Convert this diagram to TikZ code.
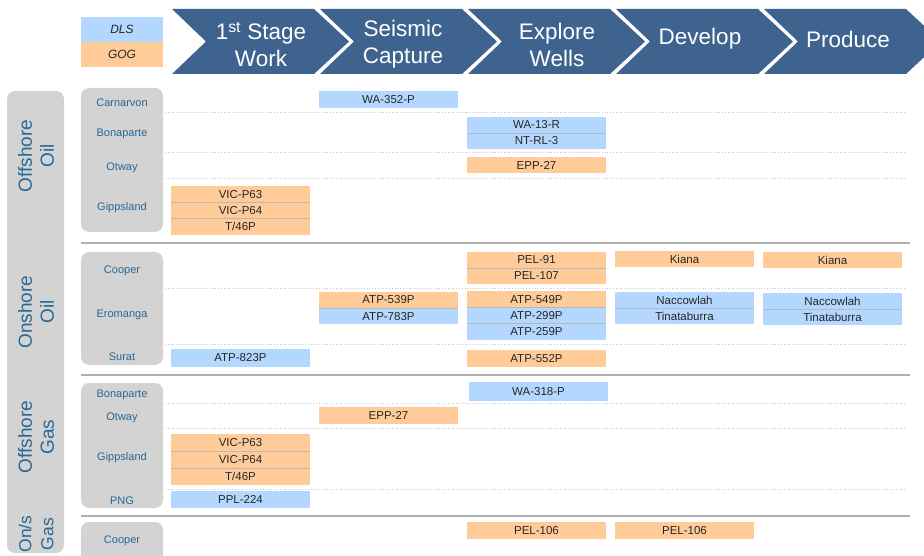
\documentclass[tikz,border=0pt]{standalone}
\usepackage{fontspec}
\setmainfont{Liberation Sans}
\definecolor{chev}{RGB}{62,99,143}
\definecolor{dls}{RGB}{179,215,255}
\definecolor{gog}{RGB}{255,204,153}
\definecolor{lbl}{RGB}{40,104,150}
\definecolor{panel}{RGB}{211,211,211}
\definecolor{sep}{RGB}{175,175,175}
\definecolor{dotc}{RGB}{200,200,200}
\definecolor{divl}{RGB}{185,185,185}
\begin{document}
\begin{tikzpicture}[x=1pt,y=-1pt,
 box/.style={minimum width=139pt, minimum height=16.3pt, inner sep=0pt, font=\fontsize{11.5}{12}\selectfont, text=black!85},
 dlsbox/.style={box, fill=dls},
 gogbox/.style={box, fill=gog},
 legendbox/.style={minimum width=82pt, minimum height=25pt, inner sep=0pt, font=\itshape\fontsize{12}{13}\selectfont, text=black!85},
 chevtext/.style={text=white, font=\fontsize{22.5}{27}\selectfont, align=center},
 grouplabel/.style={text=lbl, rotate=90, align=center, font=\fontsize{19}{22}\selectfont},
 region/.style={text=lbl, font=\fontsize{11}{12}\selectfont},
 panelbox/.style={fill=panel, rounded corners=8pt},
 divider/.style={draw=divl, line width=0.8pt},
 dotline/.style={draw=dotc, dotted, line width=0.8pt},
 sepline/.style={draw=sep, line width=1.8pt}]

\useasboundingbox (0,0) rectangle (924,556);
\clip (0,0) rectangle (924,556);

% chevrons
\foreach \x in {172,320,468,616,764}
  \fill[chev] (\x,9) -- ++(142,0) -- ++(35,32.5) -- ++(-35,32.5) -- ++(-142,0) -- ++(34,-32.5) -- cycle;
\node[chevtext] (c1) at (261,44.5) {1\textsuperscript{st} Stage\\Work};
\node[chevtext] (c2) at (403,44.5) {Seismic\\Capture};
\node[chevtext] (c3) at (557,44.5) {Explore\\Wells};
\node[chevtext] (c4) at (700,39) {Develop};
\node[chevtext] (c5) at (848,39) {Produce};

% legend
\node[legendbox, fill=dls] (leg1) at (122,29.5) {DLS};
\node[legendbox, fill=gog] (leg2) at (122,54.5) {GOG};

% dotted row lines
\foreach \y in {112,152,178,288,344,403,428,489}
  \draw[dotline] (81,\y) -- (905,\y);
% separators
\foreach \y in {243,375,516}
  \draw[sepline] (81,\y) -- (910,\y);

% left group bar
\fill[panelbox] (7,91) rectangle (64,553);
\node[grouplabel] (g1) at (36,156) {Offshore\\Oil};
\node[grouplabel] (g2) at (36,312) {Onshore\\Oil};
\node[grouplabel] (g3) at (36,437) {Offshore\\Gas};
\node[grouplabel, font=\fontsize{17.5}{22}\selectfont] (g4) at (36,534) {On/s\\Gas};

% region panels
\fill[panelbox] (81,88) rectangle (163,232);
\fill[panelbox] (81,252) rectangle (163,365);
\fill[panelbox] (81,383) rectangle (163,508);
\fill[panelbox] (81,522) rectangle (163,575);

\node[region] (r1) at (122,103) {Carnarvon};
\node[region] (r2) at (122,134) {Bonaparte};
\node[region] (r3) at (122,168) {Otway};
\node[region] (r4) at (122,208) {Gippsland};
\node[region] (r5) at (122,271) {Cooper};
\node[region] (r6) at (122,315) {Eromanga};
\node[region] (r7) at (122,357) {Surat};
\node[region] (r8) at (122,395) {Bonaparte};
\node[region] (r9) at (122,418) {Otway};
\node[region] (r10) at (122,458) {Gippsland};
\node[region] (r11) at (122,501) {PNG};
\node[region] (r12) at (122,541) {Cooper};

% Offshore oil
\node[dlsbox, minimum height=17pt] (b1) at (388.5,99.5) {WA-352-P};
\node[dlsbox, minimum height=16pt] (b2) at (536.5,125) {WA-13-R};
\node[dlsbox, minimum height=16pt] (b3) at (536.5,141) {NT-RL-3};
\node[gogbox, minimum height=16pt] (b4) at (536.5,165) {EPP-27};
\node[gogbox] (b5) at (240.5,194.2) {VIC-P63};
\node[gogbox] (b6) at (240.5,210.5) {VIC-P64};
\node[gogbox] (b7) at (240.5,226.8) {T/46P};

% Onshore oil
\node[gogbox, minimum height=16pt] (b8) at (536.5,260) {PEL-91};
\node[gogbox, minimum height=16pt] (b9) at (536.5,276) {PEL-107};
\node[gogbox, minimum height=16pt] (b10) at (684.5,259) {Kiana};
\node[gogbox, minimum height=16pt] (b11) at (832.5,260) {Kiana};
\node[gogbox] (b12) at (388.5,300) {ATP-539P};
\node[dlsbox] (b13) at (388.5,316.3) {ATP-783P};
\node[gogbox] (b14) at (536.5,299.2) {ATP-549P};
\node[dlsbox] (b15) at (536.5,315.5) {ATP-299P};
\node[dlsbox] (b16) at (536.5,331.8) {ATP-259P};
\node[dlsbox, minimum height=16pt] (b17) at (684.5,300) {Naccowlah};
\node[dlsbox, minimum height=16pt] (b18) at (684.5,316) {Tinataburra};
\node[dlsbox, minimum height=16pt] (b19) at (832.5,301) {Naccowlah};
\node[dlsbox, minimum height=16pt] (b20) at (832.5,317) {Tinataburra};
\node[dlsbox, minimum height=18pt] (b21) at (240.5,358) {ATP-823P};
\node[gogbox, minimum height=17pt] (b22) at (536.5,358.5) {ATP-552P};

% Offshore gas
\node[dlsbox, minimum height=19pt] (b23) at (538.5,391.5) {WA-318-P};
\node[gogbox, minimum height=17pt] (b24) at (388.5,415.5) {EPP-27};
\node[gogbox, minimum height=17pt] (b25) at (240.5,442.5) {VIC-P63};
\node[gogbox, minimum height=17pt] (b26) at (240.5,459.5) {VIC-P64};
\node[gogbox, minimum height=17pt] (b27) at (240.5,476.5) {T/46P};
\node[dlsbox, minimum height=17pt] (b28) at (240.5,499.5) {PPL-224};

% On/s gas
\node[gogbox, minimum height=17pt] (b29) at (536.5,530.5) {PEL-106};
\node[gogbox, minimum height=17pt] (b30) at (684.5,530.5) {PEL-106};

% dividers between stacked boxes
\foreach \n in {b2,b5,b6,b8,b12,b14,b15,b17,b19,b25,b26}
  \draw[divider] (\n.south west) -- (\n.south east);

\end{tikzpicture}
\end{document}
